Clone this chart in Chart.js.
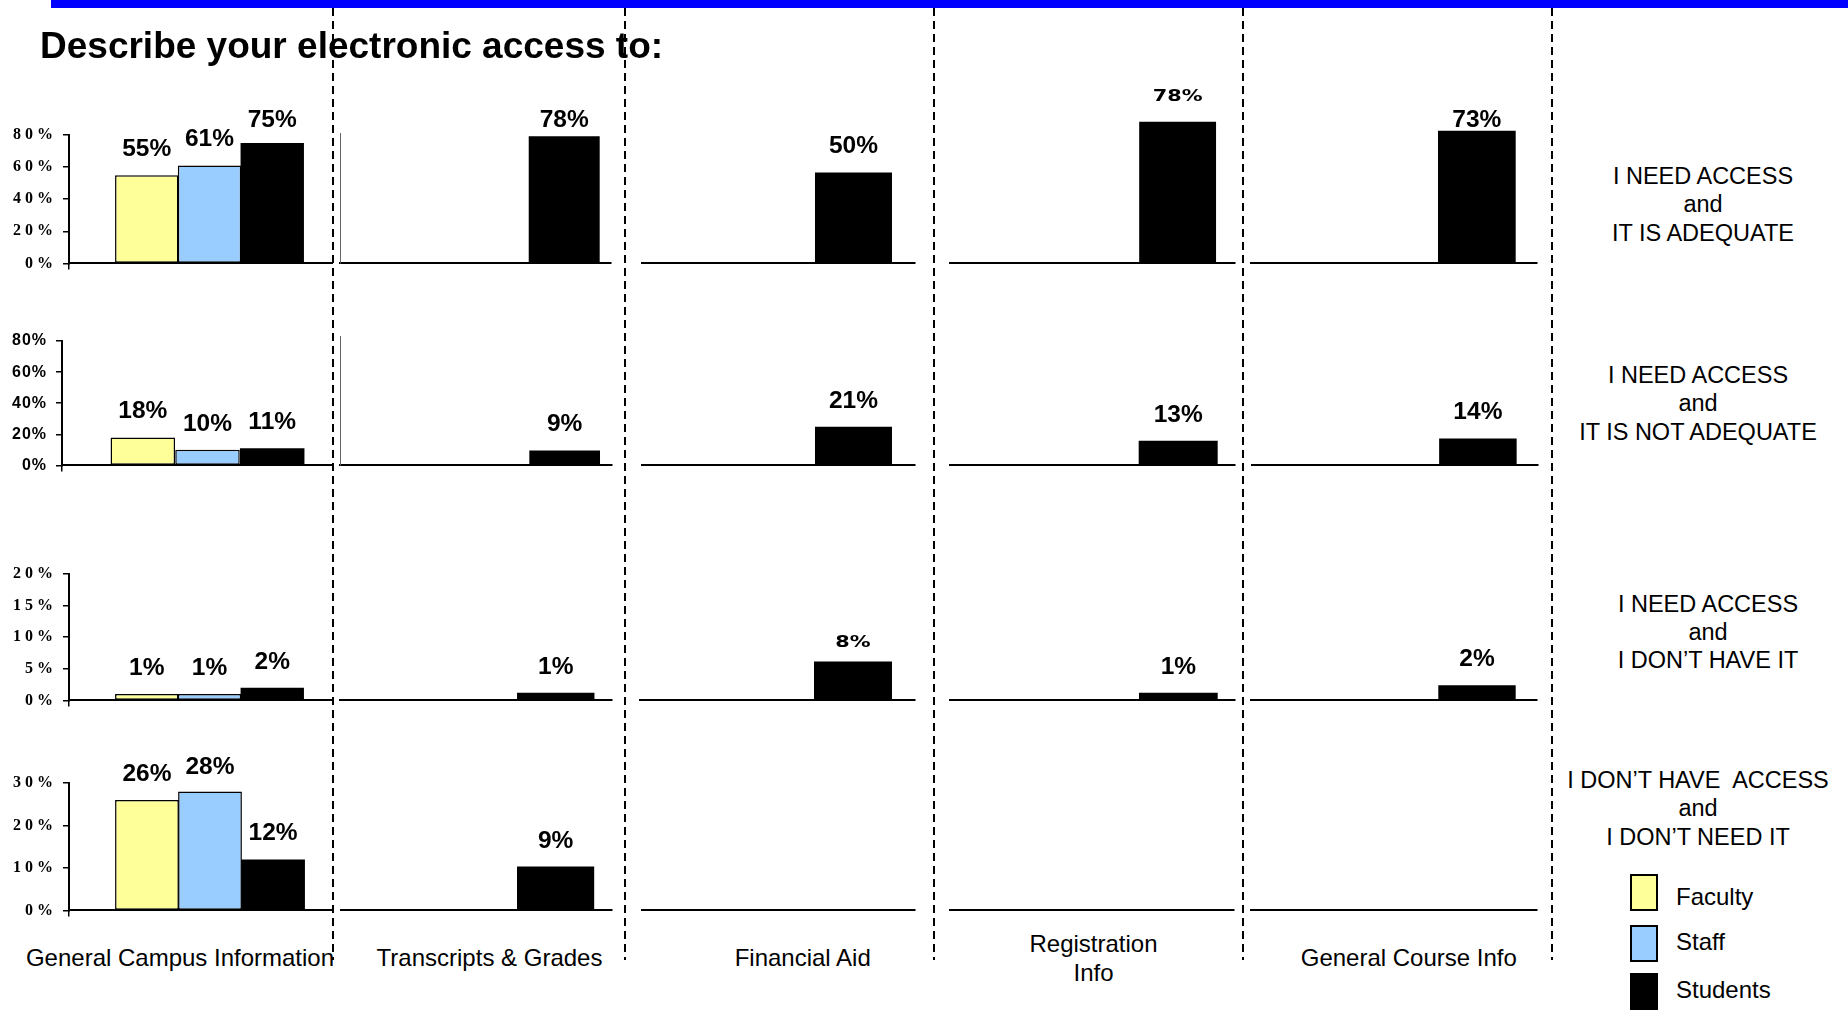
<!DOCTYPE html>
<html>
<head>
<meta charset="utf-8">
<title>Describe your electronic access to:</title>
<script src="https://cdn.jsdelivr.net/npm/chart.js@4.4.1/dist/chart.umd.min.js"></script>
<style>
  html, body { margin: 0; padding: 0; background: #fff; }
  #slide { position: relative; width: 1848px; height: 1013px; overflow: hidden;
           font-family: "Liberation Sans", Arial, sans-serif; color: #000; }
  .txt { position: absolute; white-space: pre; line-height: 1; }
  .dash { position: absolute; width: 2px;
          background: repeating-linear-gradient(to bottom, #000 0 8px, transparent 8px 13px); }
  .clip { position: absolute; left: 0; top: 0; width: 333px; height: 1013px; overflow: hidden; }
  .swatch { position: absolute; box-sizing: border-box; border: 2px solid #000; }
  canvas { position: absolute; }
</style>
</head>
<body>
<div id="slide">
  <div style="position:absolute;left:51px;top:0;width:1797px;height:8px;background:#0000ff"></div>
  <div class="clip" id="firstCol"></div>
</div>
<script>
const topics = ["General Campus Information", "Transcripts & Grades", "Financial Aid", ["Registration", "Info"], "General Course Info"];
const groups = ["Faculty", "Staff", "Students"];
const groupColors = ["#ffff99", "#99ccff", "#000000"];
const answers = [
  ["I NEED ACCESS", "and", "IT IS ADEQUATE"],
  ["I NEED ACCESS", "and", "IT IS NOT ADEQUATE"],
  ["I NEED ACCESS", "and", "I DON\u2019T HAVE IT"],
  ["I DON\u2019T HAVE  ACCESS", "and", "I DON\u2019T NEED IT"]
];

// percent per topic (null = no bar)
const facultyAdequate = [55, null, null, null, null];
const staffAdequate = [61, null, null, null, null];
const studentsAdequate = [75, 78, 50, 78, 73];

const facultyNotAdequate = [18, null, null, null, null];
const staffNotAdequate = [10, null, null, null, null];
const studentsNotAdequate = [11, 9, 21, 13, 14];

const facultyNoAccess = [1, null, null, null, null];
const staffNoAccess = [1, null, null, null, null];
const studentsNoAccess = [2, 1, 8, 1, 2];

const facultyNoNeed = [26, null, null, null, null];
const staffNoNeed = [28, null, null, null, null];
const studentsNoNeed = [12, 9, null, null, null];

const axisMax = [80, 80, 20, 30];
const axisStep = [20, 20, 5, 10];

const series = [
  [facultyAdequate, staffAdequate, studentsAdequate],
  [facultyNotAdequate, staffNotAdequate, studentsNotAdequate],
  [facultyNoAccess, staffNoAccess, studentsNoAccess],
  [facultyNoNeed, staffNoNeed, studentsNoNeed]
];

// plot box of each small chart: left, right, baseline, height of axis max (page px)
const plotBoxes = [
  [[69, 350, 263.3, 130], [340, 611, 263.3, 130], [642, 915, 262.7, 144.6], [949.5, 1234, 262.7, 144.6], [1251, 1537, 262.7, 144.6]],
  [[62, 353, 465, 129], [340, 611.5, 465, 129], [642, 915, 464.5, 146], [950, 1235, 465, 149.6], [1251.5, 1537, 464.5, 152]],
  [[69, 350, 700, 128.3], [340, 611.5, 700.3, 147], [640, 915, 700, 95.8], [950, 1235, 700, 147], [1251, 1537, 700, 147]],
  [[69, 350.6, 910.3, 129.3], [340.5, 611.5, 910.3, 145.3], [642, 914.6, 910, 130], [950, 1234.4, 910, 130], [1251, 1536.6, 910, 130]]
];
// categoryPercentage, barPercentage of each small chart
const barFit = [
  [[0.670, 1.01], [0.982, 0.80], [0.824, 1.027], [0.896, 0.903], [0.869, 0.938]],
  [[0.667, 0.997], [0.978, 0.797], [0.824, 1.027], [0.902, 0.922], [0.8695, 0.935]],
  [[0.670, 1.01], [0.8796, 0.971], [0.8236, 1.033], [0.9037, 0.917], [0.8706, 0.9325]],
  [[0.6706, 1.012], [0.8756, 0.976], [0.8, 0.9], [0.8, 0.9], [0.8, 0.9]]
];

const normalLabel = { font: "bold 24.5px 'Liberation Sans', Arial, sans-serif", stretch: 1, gap: 19, clamp: 136 };
const wideLabel = { font: "bold 16px 'DejaVu Sans', Verdana, sans-serif", stretch: 1.3, gap: 21, clamp: 0 };
const labelStyles = { "0-3": wideLabel, "2-2": Object.assign({}, wideLabel, { gap: 15 }) };

const tickFonts = [
  { family: "'Liberation Serif', 'Times New Roman', serif", weight: "bold", size: 16 },
  { family: "'Liberation Sans', Arial, sans-serif", weight: "bold", size: 16 },
  { family: "'Liberation Serif', 'Times New Roman', serif", weight: "bold", size: 16 },
  { family: "'Liberation Serif', 'Times New Roman', serif", weight: "bold", size: 16 }
];
const tickSpacing = [4, 1, 4, 4];
const tickPadding = [6, 9, 6, 6];

const slide = document.getElementById("slide");
const firstCol = document.getElementById("firstCol");

function addText(parent, str, x, baseline, size, opts = {}) {
  const el = document.createElement("div");
  el.className = "txt";
  el.textContent = str;
  el.style.fontSize = size + "px";
  if (opts.bold) el.style.fontWeight = "bold";
  el.style.top = (baseline - 0.8465 * size) + "px";
  el.style.left = x + "px";
  if (opts.center) el.style.transform = "translateX(-50%)";
  parent.appendChild(el);
}

function valueLabelPlugin(style) {
  return {
    id: "valueLabels",
    afterDatasetsDraw(chart) {
      const ctx = chart.ctx;
      const base = chart.scales.y.getPixelForValue(0);
      chart.data.datasets.forEach((ds, i) => {
        chart.getDatasetMeta(i).data.forEach((bar, j) => {
          const v = ds.data[j];
          if (v == null) return;
          let y = bar.y - style.gap;
          if (style.clamp) y = Math.max(y, base - style.clamp);
          ctx.save();
          ctx.letterSpacing = "0px";
          ctx.font = style.font;
          ctx.fillStyle = "#000";
          ctx.textAlign = "center";
          ctx.textBaseline = "alphabetic";
          ctx.translate(bar.x, y);
          ctx.scale(style.stretch, 1);
          ctx.fillText(v + "%", 0, 0);
          ctx.restore();
        });
      });
    }
  };
}

function spacingPlugin(px) {
  return {
    id: "tickSpacing",
    beforeDraw(chart) { chart.ctx.letterSpacing = px + "px"; },
    beforeDatasetsDraw(chart) { chart.ctx.letterSpacing = "0px"; }
  };
}

function makePanel(r, c) {
  const [L, R, B, H] = plotBoxes[r][c];
  const [cp, bp] = barFit[r][c];
  const first = c === 0;
  const sideLine = c === 1 && r < 2;
  const yW = first ? 70 : 0;
  const xH = first ? 6 : 0;
  const pad = { top: 60, bottom: 8, left: first ? 0 : 4, right: 4 };

  const canvas = document.createElement("canvas");
  canvas.width = Math.round(pad.left + yW + (R - L) + pad.right);
  canvas.height = Math.round(pad.top + H + xH + pad.bottom);
  (first ? firstCol : slide).appendChild(canvas);

  const plugins = [valueLabelPlugin(labelStyles[r + "-" + c] || normalLabel)];
  if (first) plugins.push(spacingPlugin(tickSpacing[r]));

  const chart = new Chart(canvas, {
    type: "bar",
    data: {
      labels: [topics[c]],
      datasets: groups.map((g, i) => ({
        label: g,
        data: [series[r][i][c]],
        backgroundColor: groupColors[i],
        borderColor: "#000",
        borderWidth: i === 2 ? 0 : 1.5,
        borderSkipped: false,
        categoryPercentage: cp,
        barPercentage: bp,
        clip: false
      }))
    },
    options: {
      responsive: false,
      animation: false,
      devicePixelRatio: 1,
      events: [],
      layout: { padding: pad },
      plugins: { legend: { display: false }, tooltip: { enabled: false } },
      scales: {
        x: {
          offset: true,
          ticks: { display: false },
          grid: { display: first, drawOnChartArea: false, drawTicks: true, tickLength: 6, color: "#000", lineWidth: 1.5 },
          border: { display: true, color: "#000", width: 2 },
          afterFit: (s) => { s.height = xH; }
        },
        y: {
          display: first || sideLine,
          min: 0,
          max: axisMax[r],
          ticks: {
            display: first,
            stepSize: axisStep[r],
            padding: tickPadding[r],
            color: "#000",
            font: tickFonts[r],
            callback: (v) => v + "%"
          },
          grid: { display: first, drawOnChartArea: false, drawTicks: true, tickLength: 6, color: "#000", lineWidth: 1.5 },
          border: { display: true, color: first ? "#000" : "#666", width: first ? 2 : 1 },
          afterFit: (s) => { s.width = yW; }
        }
      }
    },
    plugins
  });

  const ca = chart.chartArea;
  canvas.style.left = Math.round(L - ca.left) + "px";
  canvas.style.top = Math.round(B - ca.bottom) + "px";
}

for (let r = 0; r < 4; r++) {
  for (let c = 0; c < 5; c++) makePanel(r, c);
}

// dashed column separators
[332.6, 625.3, 934.3, 1243.4, 1552.2].forEach((x) => {
  const d = document.createElement("div");
  d.className = "dash";
  d.style.left = (x - 1) + "px";
  d.style.top = "8px";
  d.style.height = "952px";
  slide.appendChild(d);
});

addText(slide, "Describe your electronic access to:", 40, 58.3, 37, { bold: true });

// topic names under the columns
const topicX = [180, 489.5, 802.7, 1093.5, 1408.8];
topics.forEach((t, c) => {
  const parent = c === 0 ? firstCol : slide;
  if (Array.isArray(t)) {
    t.forEach((line, k) => addText(parent, line, topicX[c], 952.6 + k * 28.3, 24, { center: true }));
  } else {
    addText(parent, t, topicX[c], 966.3, 24, { center: true });
  }
});

// answer captions on the right
const answerX = [1703, 1698, 1708, 1698];
const answerBase = [185, 384, 612.5, 789];
answers.forEach((lines, r) => {
  lines.forEach((line, k) => addText(slide, line, answerX[r], answerBase[r] + k * 28.3, 23.5, { center: true }));
});

// legend
const legendTop = [874, 925, 973];
const legendBase = [905.6, 950, 998.5];
groups.forEach((g, i) => {
  const sw = document.createElement("div");
  sw.className = "swatch";
  sw.style.left = "1629.5px";
  sw.style.top = legendTop[i] + "px";
  sw.style.width = "28px";
  sw.style.height = "37px";
  sw.style.background = groupColors[i];
  slide.appendChild(sw);
  addText(slide, g, 1676, legendBase[i], 24);
});
</script>
</body>
</html>
